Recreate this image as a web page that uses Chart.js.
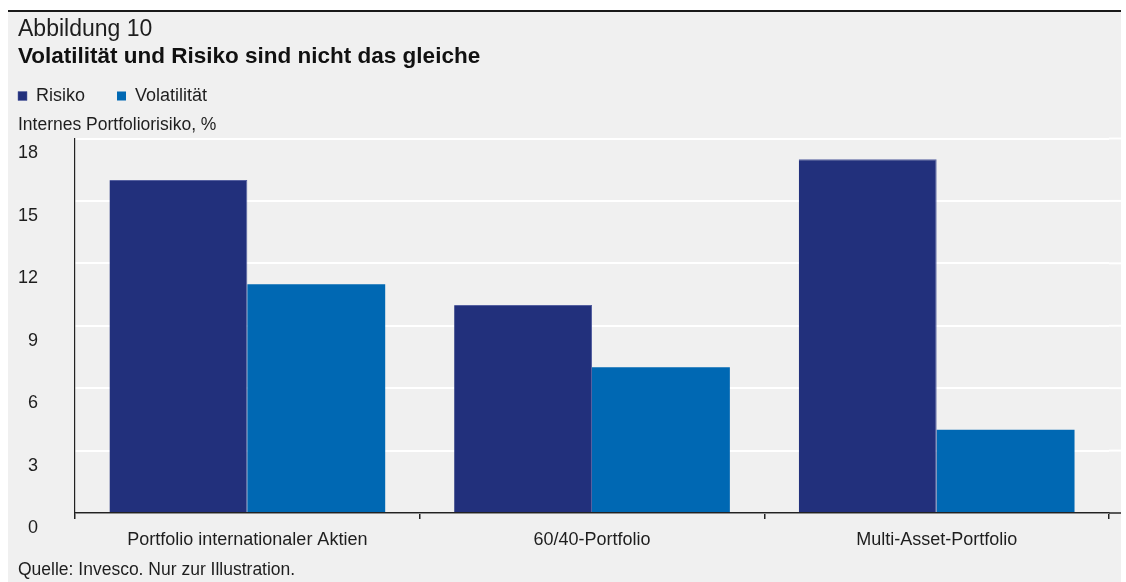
<!DOCTYPE html>
<html>
<head>
<meta charset="utf-8">
<script src="https://cdn.jsdelivr.net/npm/chart.js@4/dist/chart.umd.min.js"></script>
<style>
html, body { margin: 0; padding: 0; background: #ffffff; }
#wrap { position: relative; width: 1126px; height: 582px; }
</style>
</head>
<body>
<div id="wrap"><canvas id="chart" width="1126" height="582"></canvas></div>
<script>
// ---- data ----
const figureLabel = 'Abbildung 10';
const chartTitle = 'Volatilität und Risiko sind nicht das gleiche';
const axisLabel = 'Internes Portfoliorisiko, %';
const sourceNote = 'Quelle: Invesco. Nur zur Illustration.';
const categories = ['Portfolio internationaler Aktien', '60/40-Portfolio', 'Multi-Asset-Portfolio'];
const seriesNames = ['Risiko', 'Volatilität'];
const risikoValues = [16, 10, 17];
const volatilitaetValues = [11, 7, 4];
const yTicks = [0, 3, 6, 9, 12, 15, 18];

// ---- style ----
const FONT = '"Liberation Sans", Arial, sans-serif';
const TEXT = '#1e1e1e';
const PANEL = { left: 8, top: 12, right: 1121 };
const LEGEND_PAD = 32;

const panelPlugin = {
  id: 'panel',
  beforeDraw(chart) {
    const ctx = chart.ctx;
    ctx.save();
    ctx.fillStyle = '#ffffff';
    ctx.fillRect(0, 0, chart.width, chart.height);
    ctx.fillStyle = '#f0f0f0';
    ctx.fillRect(PANEL.left, PANEL.top, PANEL.right - PANEL.left, chart.height - PANEL.top);
    ctx.strokeStyle = '#1a1a1a';
    ctx.lineWidth = 2;
    ctx.beginPath();
    ctx.moveTo(PANEL.left, PANEL.top - 1);
    ctx.lineTo(PANEL.right, PANEL.top - 1);
    ctx.stroke();
    ctx.restore();
  },
  afterLayout(chart) {
    // put the legend flush with the text column
    const lg = chart.legend;
    if (lg) {
      lg.left = chart.chartArea.left - 57 - LEGEND_PAD;
      lg.top = 96 - LEGEND_PAD - 9;
    }
  },
  beforeDatasetsDraw(chart) {
    // grid lines run on to the right edge of the panel
    const ctx = chart.ctx, y = chart.scales.y, area = chart.chartArea;
    ctx.save();
    ctx.strokeStyle = '#ffffff';
    ctx.lineWidth = 2;
    y.ticks.forEach(t => {
      const py = y.getPixelForValue(t.value);
      ctx.beginPath();
      ctx.moveTo(area.right, py);
      ctx.lineTo(PANEL.right, py);
      ctx.stroke();
    });
    ctx.restore();
  },
  afterDraw(chart) {
    const ctx = chart.ctx, area = chart.chartArea;
    ctx.save();
    ctx.strokeStyle = '#222222';
    ctx.lineWidth = 1.5;
    ctx.beginPath();
    ctx.moveTo(area.right, area.bottom);
    ctx.lineTo(PANEL.right, area.bottom);
    ctx.stroke();
    ctx.fillStyle = TEXT;
    ctx.textAlign = 'left';
    ctx.textBaseline = 'middle';
    ctx.font = '17.5px ' + FONT;
    ctx.fillText(axisLabel, 18, 125);
    ctx.fillText(sourceNote, 18, 570);
    ctx.restore();
  }
};

new Chart(document.getElementById('chart'), {
  type: 'bar',
  data: {
    labels: categories,
    datasets: [
      {
        label: seriesNames[0],
        data: risikoValues,
        backgroundColor: '#22307c',
        borderColor: '#5560a0',
        borderWidth: { top: 1, right: 1, left: 0, bottom: 0 },
        categoryPercentage: 0.8,
        barPercentage: 1.0
      },
      {
        label: seriesNames[1],
        data: volatilitaetValues,
        backgroundColor: '#0068b3',
        borderWidth: 0,
        categoryPercentage: 0.8,
        barPercentage: 1.0
      }
    ]
  },
  options: {
    responsive: false,
    animation: false,
    layout: { padding: { left: 18, right: 17, top: 14, bottom: 29 } },
    plugins: {
      tooltip: { enabled: false },
      title: {
        display: true,
        text: figureLabel,
        align: 'start',
        color: TEXT,
        font: { family: FONT, size: 23, weight: 'normal', lineHeight: 1.0 },
        padding: { top: 4.5, bottom: 0 }
      },
      subtitle: {
        display: true,
        text: chartTitle,
        align: 'start',
        color: '#111111',
        font: { family: FONT, size: 22.5, weight: 'bold', lineHeight: 1.2 },
        padding: { top: 2, bottom: 8 }
      },
      legend: {
        display: true,
        position: 'top',
        align: 'start',
        labels: {
          boxWidth: 9,
          boxHeight: 9,
          padding: LEGEND_PAD,
          color: TEXT,
          font: { family: FONT, size: 18 }
        }
      }
    },
    scales: {
      x: {
        offset: true,
        grid: { display: true, drawOnChartArea: false, drawTicks: true, tickLength: 6, color: '#222222', lineWidth: 1.5, offset: true },
        border: { display: true, color: '#222222', width: 1.5, z: 1 },
        ticks: { color: TEXT, padding: 10, font: { family: FONT, size: 18 }, maxRotation: 0 },
        afterFit(s) { s.height = 40; }
      },
      y: {
        min: 0,
        max: 18,
        afterBuildTicks(s) { s.ticks = yTicks.map(v => ({ value: v })); },
        grid: { color: '#ffffff', lineWidth: 2, drawTicks: false },
        border: { display: true, color: '#222222', width: 1.2, z: 1 },
        ticks: { color: TEXT, padding: 37, labelOffset: 15, font: { family: FONT, size: 18 } },
        afterFit(s) { s.width = 57; }
      }
    }
  },
  plugins: [panelPlugin]
});
</script>
</body>
</html>
